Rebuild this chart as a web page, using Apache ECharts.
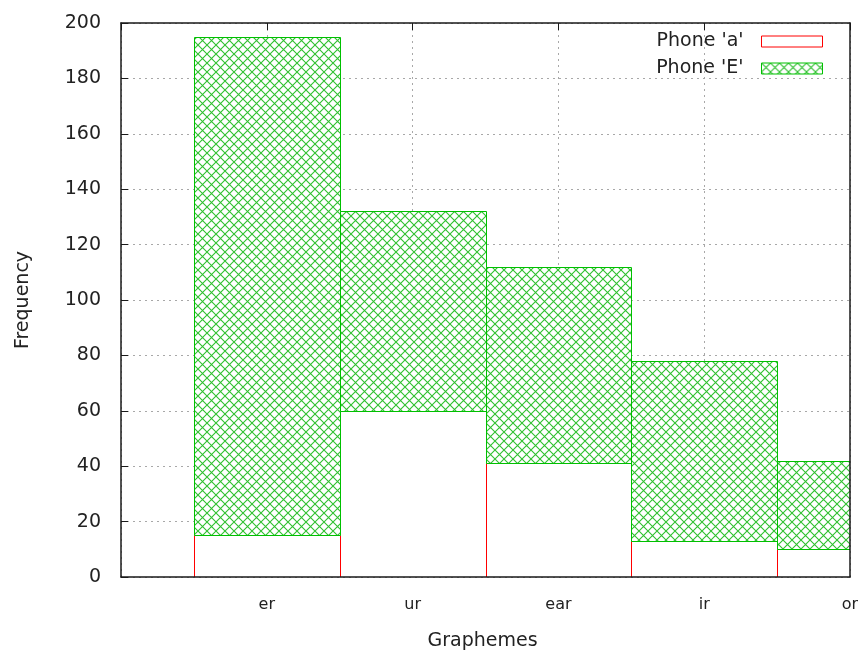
<!DOCTYPE html>
<html>
<head>
<meta charset="utf-8">
<script src="https://cdn.jsdelivr.net/npm/echarts@6/dist/echarts.min.js"></script>
<style>
  html, body { margin: 0; padding: 0; background: #fff; }
  #chart { width: 858px; height: 653px; }
</style>
</head>
<body>
<div id="chart"></div>
<script>
// Grapheme categories and phone frequencies (stacked: 'E' sits on top of 'a')
const graphemes = ['er', 'ur', 'ear', 'ir', 'or'];
const phoneA = [15, 60, 41, 13, 10];
const phoneE = [180, 72, 71, 65, 32];
const yTicks = [0, 20, 40, 60, 80, 100, 120, 140, 160, 180, 200];

const FONT = 'DejaVu Sans';
const RED = '#ff0000';
const GREEN = '#00c000';
const FRAME = { color: '#1a1a1a', width: 1.5 };
const GRID_LINE = { color: '#a8a8a8', type: [2, 4], width: 1 };
const X_MIN = -1, X_MAX = 4;

// Cross-hatch tile used to fill the 'E' boxes
function makeHatch() {
  const n = 9;
  const c = document.createElement('canvas');
  c.width = n; c.height = n;
  const ctx = c.getContext('2d');
  ctx.fillStyle = '#ffffff';
  ctx.fillRect(0, 0, n, n);
  ctx.strokeStyle = '#30c030';
  ctx.lineWidth = 1.1;
  ctx.beginPath();
  ctx.moveTo(-1, -1); ctx.lineTo(n + 1, n + 1);
  ctx.moveTo(-1, n + 1); ctx.lineTo(n + 1, -1);
  ctx.stroke();
  return c;
}
const hatch = { image: makeHatch(), repeat: 'repeat' };

const crisp = v => Math.round(v) + 0.5;

// Draws one histogram box from [index, bottom, top] in data units
function boxRenderer(fill, stroke) {
  return function (params, api) {
    const i = api.value(0);
    const p0 = api.coord([i - 0.5, api.value(1)]);
    const p1 = api.coord([i + 0.5, api.value(2)]);
    const x0 = crisp(p0[0]), x1 = crisp(p1[0]);
    const y0 = crisp(p0[1]), y1 = crisp(p1[1]);
    return {
      type: 'rect',
      shape: { x: x0, y: y1, width: x1 - x0, height: y0 - y1 },
      style: { fill: fill, stroke: stroke, lineWidth: 1 }
    };
  };
}

const dataA = graphemes.map((g, i) => [i, 0, phoneA[i]]);
const dataE = graphemes.map((g, i) => [i, phoneA[i], phoneA[i] + phoneE[i]]);

const hidden = { show: false };

const chart = echarts.init(document.getElementById('chart'));
chart.setOption({
  animation: false,
  backgroundColor: '#ffffff',
  textStyle: { fontFamily: FONT },
  grid: {
    left: 121, right: 8, top: 23, bottom: 76,
    outerBoundsMode: 'none', containLabel: false, show: false
  },
  legend: {
    orient: 'vertical',
    right: 30,
    top: 27,
    align: 'right',
    itemWidth: 61,
    itemHeight: 11,
    itemGap: 8,
    selectedMode: false,
    textStyle: { fontFamily: FONT, fontSize: 19, color: '#222', padding: [0, 13, 0, 0] },
    data: [
      { name: "Phone 'a'", icon: 'rect', itemStyle: { color: '#fff', borderColor: RED, borderWidth: 1 } },
      { name: "Phone 'E'", icon: 'rect', itemStyle: { color: hatch, borderColor: GREEN, borderWidth: 1 } }
    ]
  },
  xAxis: [
    // bottom: frame line, category labels, axis title (drawn above the boxes)
    {
      type: 'value', min: X_MIN, max: X_MAX, interval: 1, position: 'bottom', z: 10,
      name: 'Graphemes', nameLocation: 'middle', nameGap: 55,
      nameTextStyle: { fontFamily: FONT, fontSize: 19, color: '#222', padding: [0, 6, 0, 0] },
      axisLine: { show: true, onZero: false, lineStyle: FRAME },
      axisTick: hidden,
      axisLabel: {
        fontFamily: FONT, fontSize: 16, color: '#222', margin: 20,
        showMinLabel: false, showMaxLabel: true,
        formatter: v => (v >= 0 && v < graphemes.length) ? graphemes[v] : ''
      },
      splitLine: hidden
    },
    // top: frame line with inward tics
    {
      type: 'value', min: X_MIN, max: X_MAX, interval: 1, position: 'top', z: 10,
      axisLine: { show: true, onZero: false, lineStyle: FRAME },
      axisTick: { show: true, inside: true, length: 7, lineStyle: { color: '#1a1a1a', width: 1 } },
      axisLabel: hidden,
      splitLine: hidden
    },
    // vertical dotted grid, kept beneath the boxes
    {
      type: 'value', min: X_MIN, max: X_MAX, interval: 1, position: 'bottom', z: 0,
      axisLine: hidden, axisTick: hidden, axisLabel: hidden,
      splitLine: { show: true, lineStyle: GRID_LINE }
    }
  ],
  yAxis: [
    {
      type: 'value', min: yTicks[0], max: yTicks[yTicks.length - 1], interval: 20, position: 'left', z: 10,
      name: 'Frequency', nameLocation: 'middle', nameGap: 88, nameRotate: 90,
      nameTextStyle: { fontFamily: FONT, fontSize: 19, color: '#222' },
      axisLine: { show: true, onZero: false, lineStyle: FRAME },
      axisTick: { show: true, inside: true, length: 7, lineStyle: { color: '#1a1a1a', width: 1 } },
      axisLabel: { fontFamily: FONT, fontSize: 19, color: '#222', margin: 20 },
      splitLine: hidden
    },
    {
      type: 'value', min: yTicks[0], max: yTicks[yTicks.length - 1], interval: 20, position: 'right', z: 10,
      axisLine: { show: true, onZero: false, lineStyle: FRAME },
      axisTick: hidden, axisLabel: hidden, splitLine: hidden
    },
    // horizontal dotted grid, kept beneath the boxes
    {
      type: 'value', min: yTicks[0], max: yTicks[yTicks.length - 1], interval: 20, position: 'left', z: 0,
      axisLine: hidden, axisTick: hidden, axisLabel: hidden,
      splitLine: { show: true, lineStyle: GRID_LINE }
    }
  ],
  series: [
    {
      name: "Phone 'a'", type: 'custom', clip: true, xAxisIndex: 0, yAxisIndex: 0,
      itemStyle: { color: '#fff', borderColor: RED, borderWidth: 1 },
      encode: { x: 0, y: [1, 2] },
      renderItem: boxRenderer('#ffffff', RED),
      data: dataA
    },
    {
      name: "Phone 'E'", type: 'custom', clip: true, xAxisIndex: 0, yAxisIndex: 0,
      itemStyle: { color: hatch, borderColor: GREEN, borderWidth: 1 },
      encode: { x: 0, y: [1, 2] },
      renderItem: boxRenderer(hatch, GREEN),
      data: dataE
    }
  ]
});
</script>
</body>
</html>
